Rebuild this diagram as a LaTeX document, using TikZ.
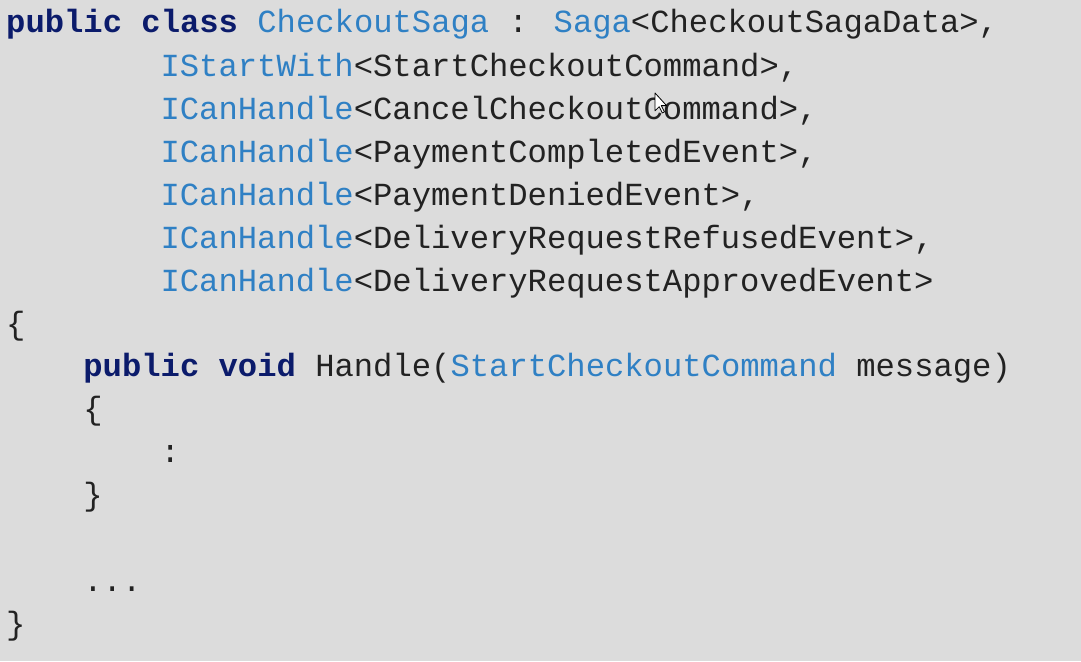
\documentclass[tikz,border=0pt]{standalone}
\usepackage{fontspec}
\usepackage{tikz}
\usetikzlibrary{positioning}
\newfontfamily\codefont{Liberation Mono}
\definecolor{bgcol}{HTML}{DCDCDC}
\definecolor{kwcol}{HTML}{0B1B6B}
\definecolor{tycol}{HTML}{2F80C4}
\definecolor{txcol}{HTML}{222222}
\tikzset{code/.style={anchor=base west,inner sep=0pt,text=txcol,font=\codefont\fontsize{32.2}{43}\selectfont}}
\newcommand{\kw}[1]{{\bfseries\color{kwcol}#1}}
\newcommand{\ty}[1]{{\color{tycol}#1}}

\begin{document}
\begin{tikzpicture}[x=1pt,y=-1pt]
	\newcommand{\col}[1]{6+#1*19.3};
	\fill[bgcol] (0,0) rectangle (1081,661);
	\useasboundingbox (0,0) rectangle (1081,661);

	\node[code] (cls) at ({\col{0}},33) {\kw{public class} \ty{CheckoutSaga} : \ty{Saga}<CheckoutSagaData>,};
	\node[code] (sw) at ({\col{8}},76) {\ty{IStartWith}<StartCheckoutCommand>,};
	\node[code] (cc) at ({\col{8}},119) {\ty{ICanHandle}<CancelCheckoutCommand>,};
	\node[code] (pc) at ({\col{8}},162) {\ty{ICanHandle}<PaymentCompletedEvent>,};
	\node[code] (pd) at ({\col{8}},205) {\ty{ICanHandle}<PaymentDeniedEvent>,};
	\node[code] (dr) at ({\col{8}},248) {\ty{ICanHandle}<DeliveryRequestRefusedEvent>,};
	\node[code] (da) at ({\col{8}},291) {\ty{ICanHandle}<DeliveryRequestApprovedEvent>};
	\node[code] (ob) at ({\col{0}},334) {\{};
	\node[code] (h) at ({\col{4}},376) {\kw{public void} Handle(\ty{StartCheckoutCommand} message)};
	\node[code] (hob) at ({\col{4}},419) {\{};
	\node[code] (body) at ({\col{8}},462) {:};
	\node[code] (hcb) at ({\col{4}},505) {\}};
	\node[code] (more) at ({\col{4}},591) {...};
	\node[code] (cb) at ({\col{0}},634) {\}};

	% mouse pointer
	\filldraw[fill=white,draw=black,line width=0.8pt,line join=round,shift={(655,93)},scale=1.05]
		(0,0) -- (0,17) -- (4,13) -- (7,19) -- (9,18) -- (6,12) -- (11,12) -- cycle;
\end{tikzpicture}
\end{document}
